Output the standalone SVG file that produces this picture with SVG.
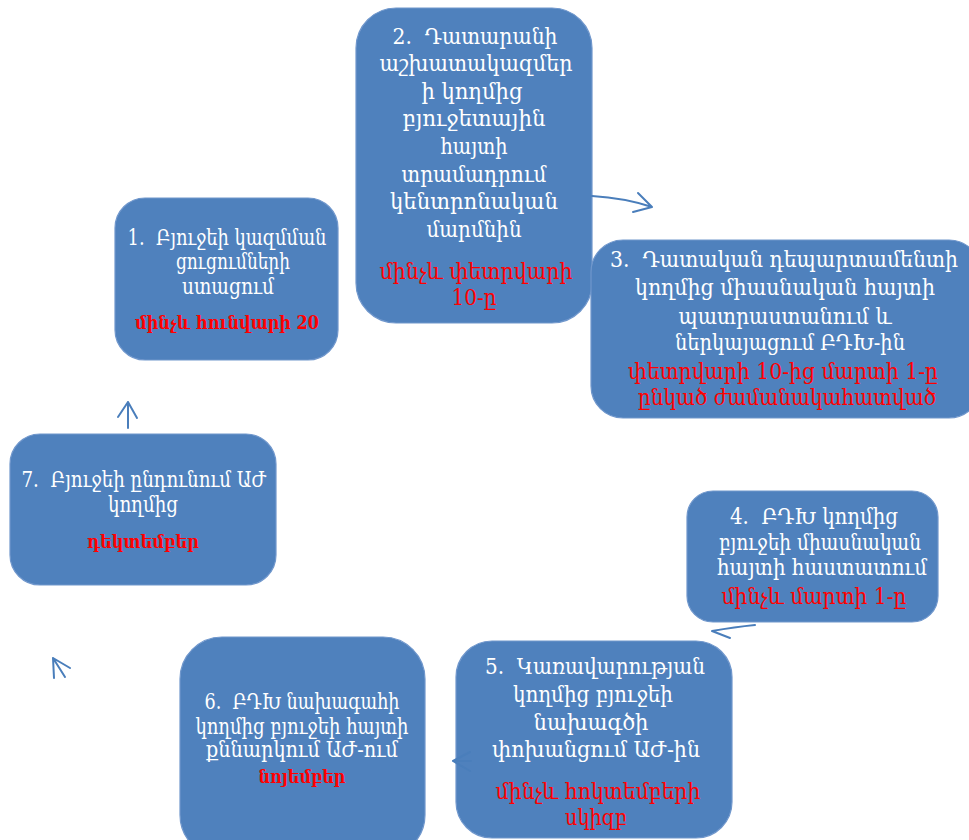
<svg xmlns="http://www.w3.org/2000/svg" width="969" height="840" viewBox="0 0 969 840">
<defs>
<style>
.box{fill:#4F81BD;stroke:#7097cc;stroke-width:1.2}
.t{font-family:"DejaVu Serif Condensed","DejaVu Serif","DejaVu Sans",serif;font-size:21.5px;fill:#ffffff;text-anchor:middle;white-space:pre}
.r{fill:#ff0000}
.b{font-weight:bold;font-size:18px}
.arr{fill:none;stroke:#4a7ebb;stroke-width:2;stroke-linecap:round;stroke-linejoin:round}
</style>
</defs>
<rect width="969" height="840" fill="#ffffff"/>
<g id="node1">
<rect class="box" x="115" y="198" width="223" height="162" rx="30"/>
<text class="t" x="227" y="245" textLength="199" lengthAdjust="spacingAndGlyphs" xml:space="preserve">1.  Բյուջեի կազմման</text>
<text class="t" x="233" y="269" textLength="114" lengthAdjust="spacingAndGlyphs">ցուցումների</text>
<text class="t" x="228" y="294" textLength="92" lengthAdjust="spacingAndGlyphs">ստացում</text>
<text class="t r b" x="227" y="329" textLength="184" lengthAdjust="spacingAndGlyphs">մինչև հունվարի 20</text>
</g>
<g id="node2">
<rect class="box" x="356" y="8" width="236" height="315" rx="40"/>
<text class="t" x="475" y="44" textLength="165" lengthAdjust="spacingAndGlyphs" xml:space="preserve">2.  Դատարանի</text>
<text class="t" x="476" y="71" textLength="193" lengthAdjust="spacingAndGlyphs">աշխատակազմեր</text>
<text class="t" x="472" y="99" textLength="101" lengthAdjust="spacingAndGlyphs">ի կողմից</text>
<text class="t" x="474" y="126" textLength="143" lengthAdjust="spacingAndGlyphs">բյուջետային</text>
<text class="t" x="474" y="154" textLength="67" lengthAdjust="spacingAndGlyphs">հայտի</text>
<text class="t" x="474" y="182" textLength="145" lengthAdjust="spacingAndGlyphs">տրամադրում</text>
<text class="t" x="474" y="209" textLength="168" lengthAdjust="spacingAndGlyphs">կենտրոնական</text>
<text class="t" x="474" y="237" textLength="95" lengthAdjust="spacingAndGlyphs">մարմնին</text>
<text class="t r" x="476" y="279" textLength="193" lengthAdjust="spacingAndGlyphs">մինչև փետրվարի</text>
<text class="t r" x="474" y="305" textLength="45" lengthAdjust="spacingAndGlyphs">10-ը</text>
</g>
<g id="node3">
<rect class="box" x="591" y="240" width="390" height="178" rx="32"/>
<text class="t" x="784" y="267" textLength="348" lengthAdjust="spacingAndGlyphs" xml:space="preserve">3.  Դատական դեպարտամենտի</text>
<text class="t" x="785" y="295" textLength="300" lengthAdjust="spacingAndGlyphs">կողմից միասնական հայտի</text>
<text class="t" x="785" y="324" textLength="213" lengthAdjust="spacingAndGlyphs">պատրաստանում և</text>
<text class="t" x="790" y="350" textLength="230" lengthAdjust="spacingAndGlyphs">ներկայացում ԲԴԽ-ին</text>
<text class="t r" x="783" y="379" textLength="310" lengthAdjust="spacingAndGlyphs">փետրվարի 10-ից մարտի 1-ը</text>
<text class="t r" x="787" y="405" textLength="298" lengthAdjust="spacingAndGlyphs">ընկած ժամանակահատված</text>
</g>
<g id="node4">
<rect class="box" x="687" y="491" width="251" height="131" rx="26"/>
<text class="t" x="814" y="524" textLength="168" lengthAdjust="spacingAndGlyphs" xml:space="preserve">4.  ԲԴԽ կողմից</text>
<text class="t" x="820" y="550" textLength="202" lengthAdjust="spacingAndGlyphs">բյուջեի միասնական</text>
<text class="t" x="822" y="575" textLength="210" lengthAdjust="spacingAndGlyphs">հայտի հաստատում</text>
<text class="t r" x="814" y="604" textLength="185" lengthAdjust="spacingAndGlyphs">մինչև մարտի 1-ը</text>
</g>
<g id="node5">
<rect class="box" x="456" y="641" width="276" height="197" rx="36"/>
<text class="t" x="595" y="674" textLength="220" lengthAdjust="spacingAndGlyphs" xml:space="preserve">5.  Կառավարության</text>
<text class="t" x="593" y="702" textLength="160" lengthAdjust="spacingAndGlyphs">կողմից բյուջեի</text>
<text class="t" x="591" y="730" textLength="115" lengthAdjust="spacingAndGlyphs">նախագծի</text>
<text class="t" x="596" y="757" textLength="208" lengthAdjust="spacingAndGlyphs">փոխանցում ԱԺ-ին</text>
<text class="t r" x="598" y="799" textLength="205" lengthAdjust="spacingAndGlyphs">մինչև հոկտեմբերի</text>
<text class="t r" x="596" y="825">սկիզբ</text>
</g>
<g id="node6">
<rect class="box" x="180" y="637" width="245" height="220" rx="42"/>
<text class="t" x="302" y="709" textLength="195" lengthAdjust="spacingAndGlyphs" xml:space="preserve">6.  ԲԴԽ նախագահի</text>
<text class="t" x="302" y="734" textLength="213" lengthAdjust="spacingAndGlyphs">կողմից բյուջեի հայտի</text>
<text class="t" x="302" y="757" textLength="192" lengthAdjust="spacingAndGlyphs">քննարկում ԱԺ-ում</text>
<text class="t r b" x="302" y="783" textLength="87" lengthAdjust="spacingAndGlyphs">նոյեմբեր</text>
</g>
<g id="node7">
<rect class="box" x="10" y="434" width="266" height="151" rx="30"/>
<text class="t" x="144" y="487" textLength="245" lengthAdjust="spacingAndGlyphs" xml:space="preserve">7.  Բյուջեի ընդունում ԱԺ</text>
<text class="t" x="143" y="512" textLength="70" lengthAdjust="spacingAndGlyphs">կողմից</text>
<text class="t r b" x="143" y="548" textLength="112" lengthAdjust="spacingAndGlyphs">դեկտեմբեր</text>
</g>
<g id="connectors">
<path class="arr" d="M592,196 Q625,198 652,207 M638,193 L652,207 L633,212"/>
<path class="arr" d="M755,625 Q735,627 712,631 L730,638"/>
<path class="arr" d="M471,761 L453,761 M470,752 L453,761 L470,771"/>
<path class="arr" d="M54,678 L53,658 L70,668 M53,658 L65,677"/>
<path class="arr" d="M128,428 L128,402 M118,417 L128,402 L137,418"/>
</g>
</svg>
